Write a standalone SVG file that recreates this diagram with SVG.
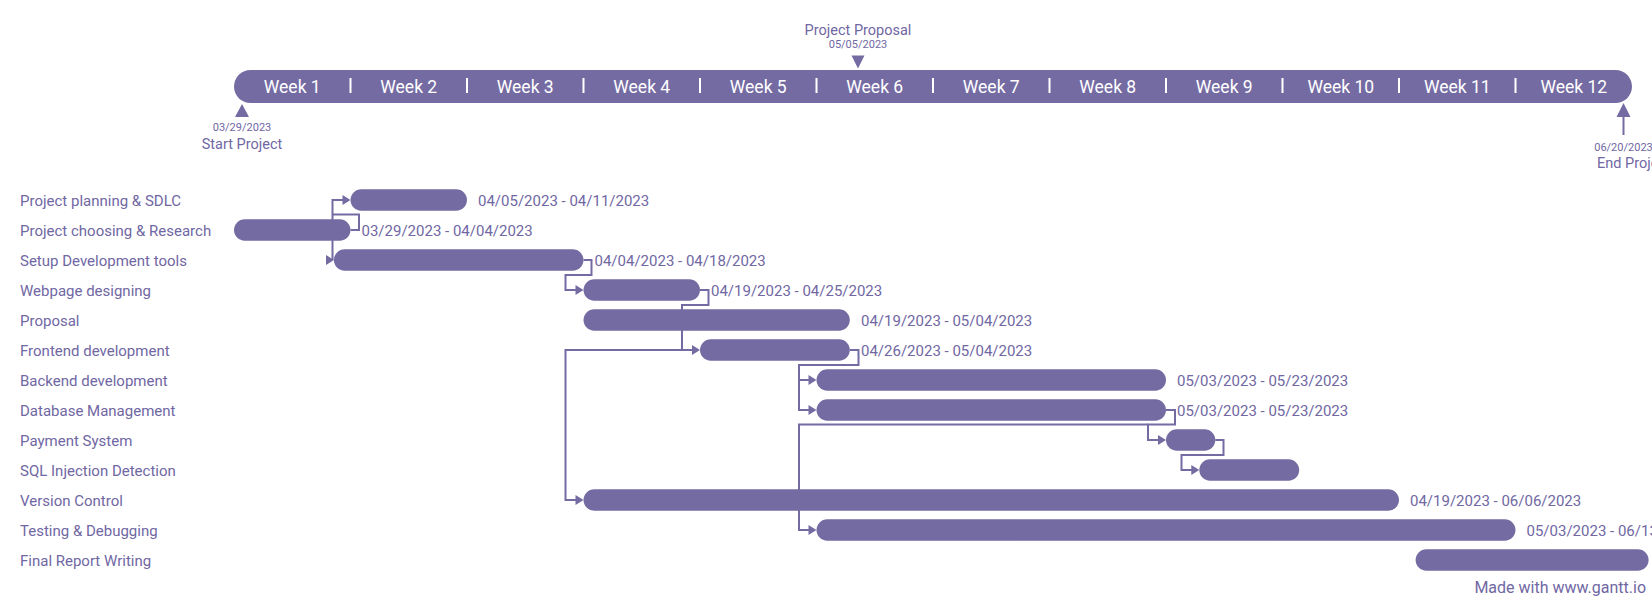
<svg xmlns="http://www.w3.org/2000/svg" xmlns:xlink="http://www.w3.org/1999/xlink" width="1652" height="602" viewBox="0 0 1652 602">
<style>
text{font-family:Roboto,"Liberation Sans",sans-serif;fill:#7067a3}
.wk{fill:#fff;font-size:17.5px;text-anchor:middle}
.sep{stroke:#fff;stroke-width:2}
.bar{fill:#756ba3}
.lbl{font-size:15px}
.dt{font-size:15px}
.ms{font-size:14.5px}
.msd{font-size:11px}
.con{fill:none;stroke:#756ba3;stroke-width:2}
.ah{fill:#756ba3}
</style>
<defs>
<path id="ah" d="M-8,-5 L0,0 L-8,5 Z" fill="#756ba3"/>
</defs>
<rect width="1652" height="602" fill="#fff"/>
<g id="timeline">
<rect class="bar" x="234" y="70" width="1398" height="33" rx="16.5"/>
<text class="wk" x="292.25" y="93">Week 1</text>
<text class="wk" x="408.75" y="93">Week 2</text>
<text class="wk" x="525.25" y="93">Week 3</text>
<text class="wk" x="641.75" y="93">Week 4</text>
<text class="wk" x="758.25" y="93">Week 5</text>
<text class="wk" x="874.75" y="93">Week 6</text>
<text class="wk" x="991.25" y="93">Week 7</text>
<text class="wk" x="1107.75" y="93">Week 8</text>
<text class="wk" x="1224.25" y="93">Week 9</text>
<text class="wk" x="1340.75" y="93">Week 10</text>
<text class="wk" x="1457.25" y="93">Week 11</text>
<text class="wk" x="1573.75" y="93">Week 12</text>
<path class="sep" d="M350.5,78V93M467,78V93M583.5,78V93M700,78V93M816.5,78V93M933,78V93M1049.5,78V93M1166,78V93M1282.5,78V93M1399,78V93M1515.5,78V93"/>
</g>
<g id="ms-start">
<polygon class="ah" points="242,104 249,117 235,117"/>
<text class="msd" x="242" y="131" text-anchor="middle">03/29/2023</text>
<text class="ms" x="242" y="149" text-anchor="middle">Start Project</text>
</g>
<g id="ms-proposal">
<polygon class="ah" points="851.5,55.5 864.5,55.5 858,68.5"/>
<text class="ms" x="858" y="35" text-anchor="middle">Project Proposal</text>
<text class="msd" x="858" y="47.5" text-anchor="middle">05/05/2023</text>
</g>
<g id="ms-end">
<polygon class="ah" points="1623.5,103 1630.5,117 1616.5,117"/>
<path class="con" d="M1623.5,116V135"/>
<text class="msd" x="1623.5" y="151" text-anchor="middle">06/20/2023</text>
<text class="ms" x="1597" y="168">End Project</text>
</g>
<g id="connectors">
<path class="con" d="M350.5,230H359V214.5H332.5V260M332.5,214.5V200H345"/>
<use href="#ah" x="350.5" y="200"/>
<use href="#ah" x="334" y="260"/>
<path class="con" d="M583.5,260H591.5V275H565.5V290H578"/>
<use href="#ah" x="583.5" y="290"/>
<path class="con" d="M700,290H708.5V305H682V350H694"/>
<use href="#ah" x="700" y="350"/>
<path class="con" d="M682,350H565.5V500H578"/>
<use href="#ah" x="583.5" y="500"/>
<path class="con" d="M849.8,350H858.5V365H799V410H811M799,380H811"/>
<use href="#ah" x="816.5" y="380"/>
<use href="#ah" x="816.5" y="410"/>
<path class="con" d="M1166,410H1175V424.5H1148V440H1160"/>
<use href="#ah" x="1166" y="440"/>
<path class="con" d="M1148,424.5H799V530H811"/>
<use href="#ah" x="816.5" y="530"/>
<path class="con" d="M1215.3,440H1223.5V455H1181.5V470H1194"/>
<use href="#ah" x="1199.3" y="470"/>
</g>
<g id="task-0">
<text class="lbl" x="20" y="205.5">Project planning &amp; SDLC</text>
<rect class="bar" x="350.5" y="189.25" width="116.5" height="21.5" rx="10.75"/>
<text class="dt" x="478" y="205.5">04/05/2023 - 04/11/2023</text>
</g>
<g id="task-1">
<text class="lbl" x="20" y="235.5">Project choosing &amp; Research</text>
<rect class="bar" x="234" y="219.25" width="116.5" height="21.5" rx="10.75"/>
<text class="dt" x="361.5" y="235.5">03/29/2023 - 04/04/2023</text>
</g>
<g id="task-2">
<text class="lbl" x="20" y="265.5">Setup Development tools</text>
<rect class="bar" x="333.9" y="249.25" width="249.6" height="21.5" rx="10.75"/>
<text class="dt" x="594.5" y="265.5">04/04/2023 - 04/18/2023</text>
</g>
<g id="task-3">
<text class="lbl" x="20" y="295.5">Webpage designing</text>
<rect class="bar" x="583.5" y="279.25" width="116.5" height="21.5" rx="10.75"/>
<text class="dt" x="711" y="295.5">04/19/2023 - 04/25/2023</text>
</g>
<g id="task-4">
<text class="lbl" x="20" y="325.5">Proposal</text>
<rect class="bar" x="583.5" y="309.25" width="266.3" height="21.5" rx="10.75"/>
<text class="dt" x="861" y="325.5">04/19/2023 - 05/04/2023</text>
</g>
<g id="task-5">
<text class="lbl" x="20" y="355.5">Frontend development</text>
<rect class="bar" x="700" y="339.25" width="149.8" height="21.5" rx="10.75"/>
<text class="dt" x="861" y="355.5">04/26/2023 - 05/04/2023</text>
</g>
<g id="task-6">
<text class="lbl" x="20" y="385.5">Backend development</text>
<rect class="bar" x="816.5" y="369.25" width="349.5" height="21.5" rx="10.75"/>
<text class="dt" x="1177" y="385.5">05/03/2023 - 05/23/2023</text>
</g>
<g id="task-7">
<text class="lbl" x="20" y="415.5">Database Management</text>
<rect class="bar" x="816.5" y="399.25" width="349.5" height="21.5" rx="10.75"/>
<text class="dt" x="1177" y="415.5">05/03/2023 - 05/23/2023</text>
</g>
<g id="task-8">
<text class="lbl" x="20" y="445.5">Payment System</text>
<rect class="bar" x="1166" y="429.25" width="49.3" height="21.5" rx="10.75"/>
</g>
<g id="task-9">
<text class="lbl" x="20" y="475.5">SQL Injection Detection</text>
<rect class="bar" x="1199.3" y="459.25" width="99.9" height="21.5" rx="10.75"/>
</g>
<g id="task-10">
<text class="lbl" x="20" y="505.5">Version Control</text>
<rect class="bar" x="583.5" y="489.25" width="815.5" height="21.5" rx="10.75"/>
<text class="dt" x="1410" y="505.5">04/19/2023 - 06/06/2023</text>
</g>
<g id="task-11">
<text class="lbl" x="20" y="535.5">Testing &amp; Debugging</text>
<rect class="bar" x="816.5" y="519.25" width="699" height="21.5" rx="10.75"/>
<text class="dt" x="1526.5" y="535.5">05/03/2023 - 06/13/2023</text>
</g>
<g id="task-12">
<text class="lbl" x="20" y="565.5">Final Report Writing</text>
<rect class="bar" x="1415.6" y="549.25" width="233" height="21.5" rx="10.75"/>
</g>
<text x="1646" y="593" font-size="16" text-anchor="end">Made with www.gantt.io</text>
</svg>
